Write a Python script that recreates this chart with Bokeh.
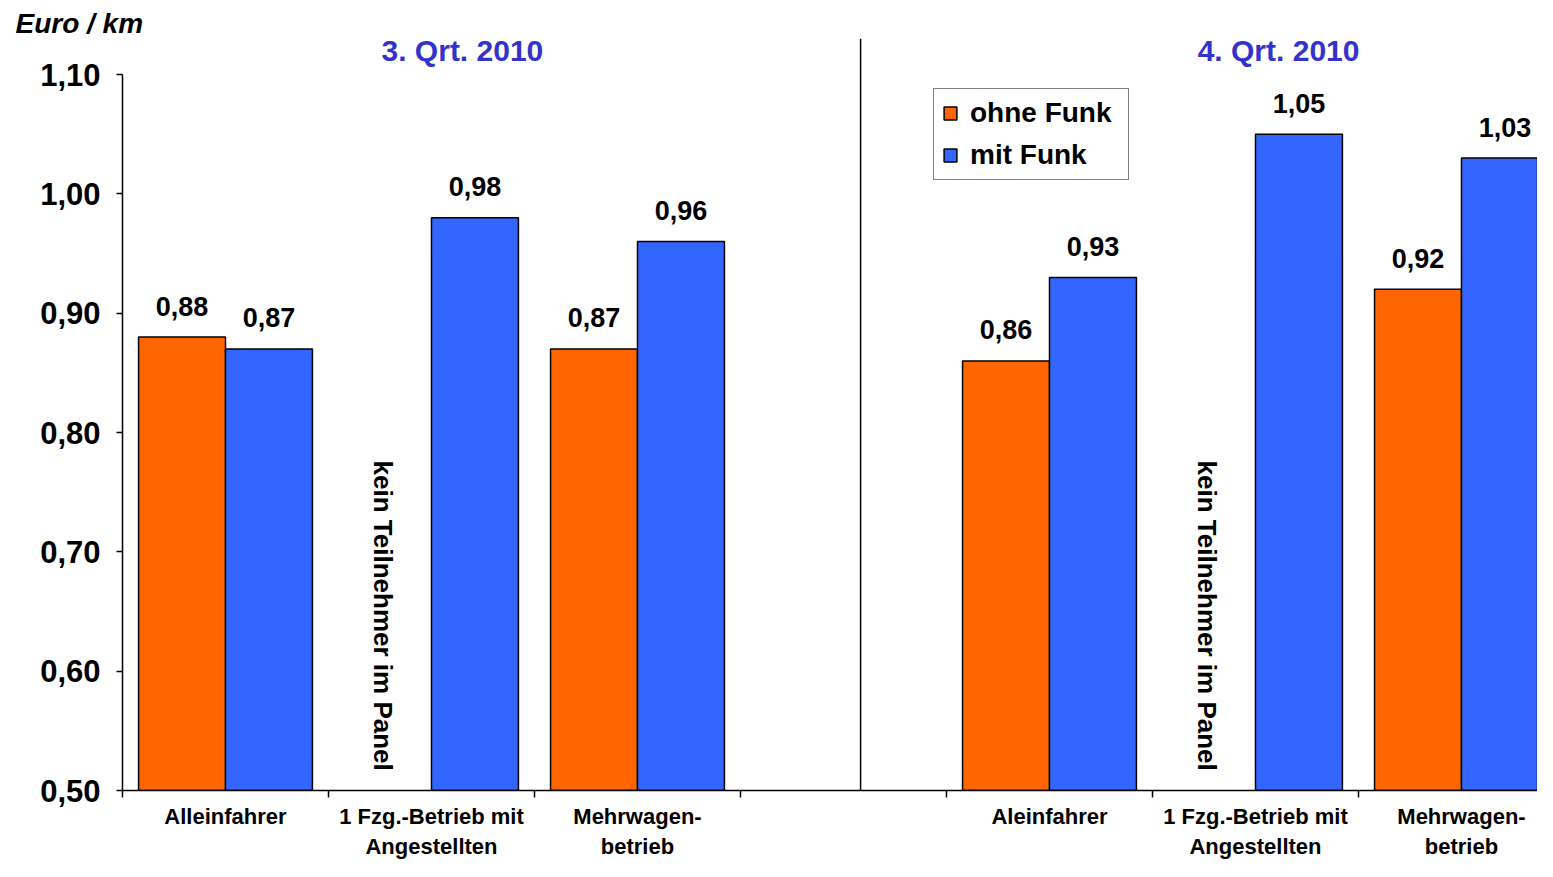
import math
from bokeh.plotting import figure
from bokeh.models import (Range1d, FixedTicker, CustomJSTickFormatter, Span,
                          ColumnDataSource, Legend, LegendItem)
from bokeh.core.properties import value
from bokeh.embed import file_html
from bokeh.resources import INLINE

# ---------------- data ----------------
categories = ["Alleinfahrer", "1 Fzg.-Betrieb mit\nAngestellten", "Mehrwagen-\nbetrieb", "",
              "Aleinfahrer", "1 Fzg.-Betrieb mit\nAngestellten", "Mehrwagen-\nbetrieb"]
ohne_funk = [0.88, None, 0.87, None, 0.86, None, 0.92]
mit_funk = [0.87, 0.98, 0.96, None, 0.93, 1.05, 1.03]
series_names = ["ohne Funk", "mit Funk"]
quarter_titles = ["3. Qrt. 2010", "4. Qrt. 2010"]
no_participant_text = "kein Teilnehmer im Panel"
no_participant_slots = [1, 5]
y_ticks = [0.5, 0.6, 0.7, 0.8, 0.9, 1.0, 1.1]
unit_label = "Euro / km"

ORANGE = "#FF6600"
BLUE = "#3366FF"
TITLE_BLUE = "#3333CC"
FONT = "Liberation Sans"

W, H = 1537, 861
y_top = 1.1302
p = figure(width=W, height=H, output_backend="svg", toolbar_location=None,
           x_range=Range1d(0, 6.869), y_range=Range1d(0.5, y_top),
           min_border_left=122, min_border_right=0, min_border_top=38, min_border_bottom=71,
           background_fill_color="white", border_fill_color="white")
p.outline_line_color = None
p.xgrid.visible = False
p.ygrid.visible = False

# unit label as plot title (outside the frame, top-left)
p.title.text = unit_label
p.title.align = "left"
p.title.offset = -107
p.title.standoff = 0
p.title.vertical_align = "bottom"
p.title.text_font = FONT
p.title.text_font_style = "bold italic"
p.title.text_font_size = "28px"
p.title.text_color = "black"

# ---------------- bars ----------------
bw = 0.422
def bars(vals, offset, color):
    xs = [i + offset for i, v in enumerate(vals) if v is not None]
    tops = [v for v in vals if v is not None]
    labs = [f"{v:.2f}".replace(".", ",") for v in tops]
    src = ColumnDataSource(dict(x=xs, top=tops, lab=labs))
    r = p.vbar(x="x", top="top", bottom=0.5, width=bw, source=src,
               fill_color=color, line_color="black", line_width=1.5)
    p.text(x="x", y="top", text="lab", source=src, text_align="center",
           text_baseline="alphabetic", y_offset=-31,
           text_font=value(FONT), text_font_style="bold", text_font_size="27px",
           text_color="black")
    return r

r_ohne = bars(ohne_funk, 0.289, ORANGE)
r_mit = bars(mit_funk, 0.711, BLUE)

# ---------------- vertical notes ----------------
note_src = ColumnDataSource(dict(x=[s + 0.265 for s in no_participant_slots],
                                 y=[0.7765] * len(no_participant_slots),
                                 t=[no_participant_text] * len(no_participant_slots)))
p.text(x="x", y="y", text="t", source=note_src, angle=-math.pi / 2,
       text_align="left", text_baseline="middle",
       text_font=value(FONT), text_font_style="bold", text_font_size="26px",
       text_color="black")

# ---------------- quarter titles ----------------
title_src = ColumnDataSource(dict(x=[1.650, 5.612], y=[1.1201, 1.1201], t=quarter_titles))
p.text(x="x", y="y", text="t", source=title_src, text_align="center",
       text_baseline="middle", text_font=value(FONT), text_font_style="bold",
       text_font_size="30px", text_color=TITLE_BLUE)

# divider between the quarters
p.add_layout(Span(location=3.583, dimension="height", line_color="black", line_width=1.5))

# ---------------- axes ----------------
yax = p.yaxis[0]
yax.ticker = FixedTicker(ticks=y_ticks, minor_ticks=[])
yax.bounds = (0.5, 1.1)
yax.formatter = CustomJSTickFormatter(code="return tick.toFixed(2).replace('.', ',');")
yax.major_label_text_font = FONT
yax.major_label_text_font_style = "bold"
yax.major_label_text_font_size = "31px"
yax.major_label_text_color = "black"
yax.axis_line_color = "black"
yax.axis_line_width = 1.5
yax.major_tick_line_color = "black"
yax.major_tick_line_width = 1.5
yax.major_tick_out = 6
yax.major_tick_in = 0
yax.major_label_standoff = 16

xax = p.xaxis[0]
centers = [i + 0.5 for i in range(len(categories))]
bounds_ticks = list(range(len(categories) + 1))
xax.ticker = FixedTicker(ticks=centers, minor_ticks=bounds_ticks)
xax.formatter = CustomJSTickFormatter(args=dict(labels=categories),
                                      code="return labels[Math.floor(tick)] || '';")
xax.major_label_text_font = FONT
xax.major_label_text_font_style = "bold"
xax.major_label_text_font_size = "22px"
xax.major_label_text_color = "black"
xax.major_label_text_line_height = 1.2
xax.axis_line_color = "black"
xax.axis_line_width = 1.5
xax.major_tick_line_color = None
xax.major_tick_out = 0
xax.major_tick_in = 0
xax.minor_tick_line_color = "black"
xax.minor_tick_line_width = 1.5
xax.minor_tick_out = 7
xax.minor_tick_in = 0
xax.major_label_standoff = 6

# ---------------- legend ----------------
legend = Legend(items=[LegendItem(label=series_names[0], renderers=[r_ohne]),
                       LegendItem(label=series_names[1], renderers=[r_mit])],
                location=(811, 610), orientation="vertical",
                label_text_font=FONT, label_text_font_style="bold",
                label_text_font_size="28px", label_text_color="black",
                glyph_width=16, glyph_height=16, label_height=30, label_width=150,
                label_standoff=12, spacing=10, padding=8, margin=0,
                border_line_color="black", border_line_width=1.5,
                background_fill_color="white", background_fill_alpha=1.0)
p.add_layout(legend, "center")

open("out.html", "w").write(file_html(p, INLINE))
